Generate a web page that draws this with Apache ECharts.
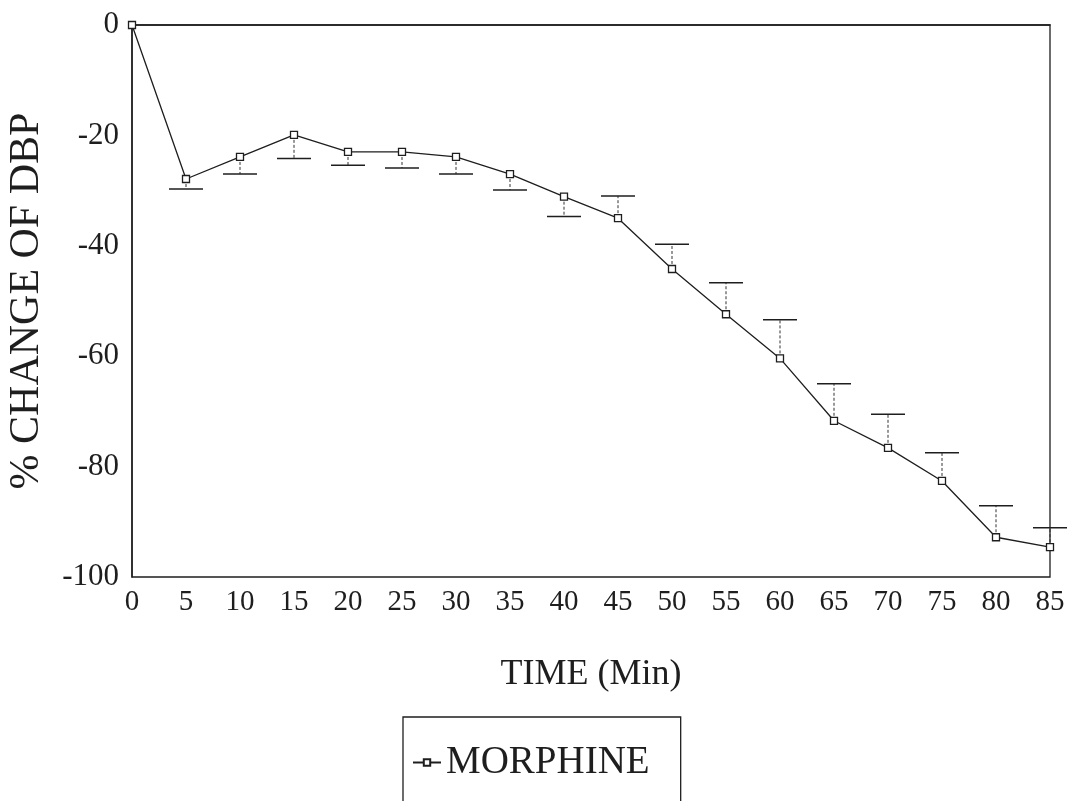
<!DOCTYPE html>
<html>
<head>
<meta charset="utf-8">
<script src="https://cdn.jsdelivr.net/npm/echarts@6/dist/echarts.min.js"></script>
<style>
  html, body { margin: 0; padding: 0; background: #fff; }
  #chart { width: 1070px; height: 801px; }
</style>
</head>
<body>
<div id="chart"></div>
<script>
// Time points (min)
const timePoints = [0, 5, 10, 15, 20, 25, 30, 35, 40, 45, 50, 55, 60, 65, 70, 75, 80, 85];
// Mean % change of diastolic blood pressure
const meanChange = [0, -27.9, -23.9, -19.9, -23.0, -23.0, -23.9, -27.0, -31.1, -35.0, -44.2, -52.4, -60.4, -71.7, -76.6, -82.6, -92.8, -94.6];
// End of the one-sided error bar at each time point (null = none)
const errorEnd = [null, -29.7, -27.0, -24.2, -25.4, -25.9, -27.0, -29.9, -34.7, -31.0, -39.7, -46.7, -53.4, -65.0, -70.5, -77.5, -87.1, -91.1];
// Axis ticks
const yTicks = { min: -100, max: 0, interval: 20 };
const xTicks = { min: 0, max: 85, interval: 5 };

const serif = '"Liberation Serif", "DejaVu Serif", serif';
const ink = '#1e1e1e';

const lineData = timePoints.map((t, i) => [t, meanChange[i]]);
const errData = timePoints
  .map((t, i) => [t, meanChange[i], errorEnd[i]])
  .filter(d => d[2] !== null);

const chart = echarts.init(document.getElementById('chart'), null, { renderer: 'canvas' });

chart.setOption({
  backgroundColor: '#ffffff',
  animation: false,
  grid: {
    left: 132, right: 20, top: 25, bottom: 224,
    containLabel: false,
    outerBoundsMode: 'none',
    show: true, borderColor: ink, borderWidth: 1.3, backgroundColor: 'transparent'
  },
  xAxis: {
    type: 'value',
    min: xTicks.min, max: xTicks.max, interval: xTicks.interval,
    name: 'TIME (Min)',
    nameLocation: 'middle',
    nameGap: 80,
    nameTextStyle: { fontFamily: serif, fontSize: 36, color: ink },
    axisLine: { show: true, lineStyle: { color: ink, width: 1.5 } },
    axisTick: { show: false },
    splitLine: { show: false },
    axisLabel: { fontFamily: serif, fontSize: 29, color: ink, margin: 11 }
  },
  yAxis: {
    type: 'value',
    min: yTicks.min, max: yTicks.max, interval: yTicks.interval,
    name: '% CHANGE OF DBP',
    nameLocation: 'middle',
    nameGap: 84,
    nameRotate: 90,
    nameTextStyle: { fontFamily: serif, fontSize: 42, color: ink },
    axisLine: { show: true, lineStyle: { color: ink, width: 1.5 } },
    axisTick: { show: false },
    splitLine: { show: false },
    axisLabel: { fontFamily: serif, fontSize: 31, color: ink, margin: 13 }
  },
  legend: {
    data: ['MORPHINE'],
    left: 403,
    top: 717,
    orient: 'horizontal',
    padding: [26, 31, 70, 9],
    borderColor: ink,
    borderWidth: 1.3,
    itemWidth: 28,
    itemHeight: 8,
    itemGap: 10,
    textStyle: { fontFamily: serif, fontSize: 39, color: ink }
  },
  series: [
    {
      name: 'MORPHINE',
      type: 'line',
      data: lineData,
      symbol: 'rect',
      symbolSize: 7,
      itemStyle: { color: '#ffffff', borderColor: ink, borderWidth: 1.3 },
      lineStyle: { color: ink, width: 1.3 },
      z: 3
    },
    {
      name: 'error',
      type: 'custom',
      data: errData,
      z: 2,
      renderItem: function (params, api) {
        const p = api.coord([api.value(0), api.value(1)]);
        const q = api.coord([api.value(0), api.value(2)]);
        const half = 17;
        return {
          type: 'group',
          children: [
            { type: 'line', shape: { x1: p[0], y1: p[1], x2: q[0], y2: q[1] },
              style: { stroke: '#333', lineWidth: 1, lineDash: [3, 2] } },
            { type: 'line', shape: { x1: q[0] - half, y1: q[1], x2: q[0] + half, y2: q[1] },
              style: { stroke: ink, lineWidth: 1.5 } }
          ]
        };
      }
    }
  ]
});
</script>
</body>
</html>
